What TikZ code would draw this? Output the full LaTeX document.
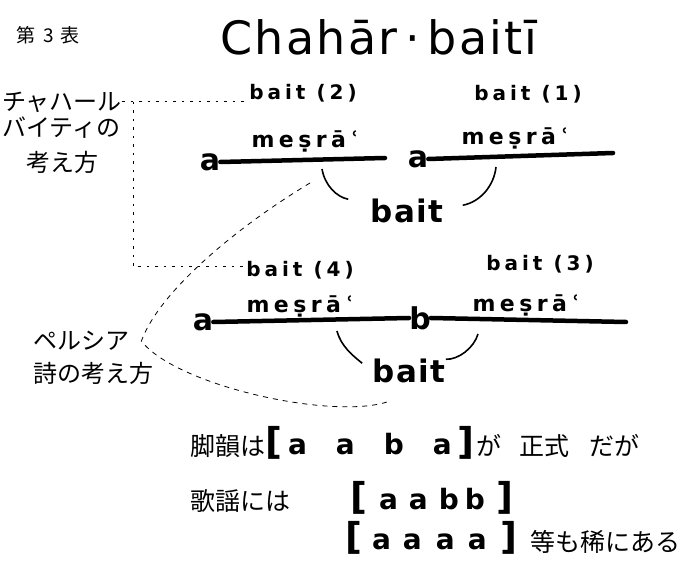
\documentclass[tikz,border=0pt]{standalone}
\usepackage{fontspec}
\newfontfamily\jfont{Noto Sans CJK JP}
\newfontfamily\handfont[LetterSpace=20]{DejaVu Sans}
\newfontfamily\wordfont[LetterSpace=5]{DejaVu Sans}
\newcommand\fs[1]{\fontsize{#1}{#1}\selectfont}
\newcommand\lbr{{\fs{37}[}}
\newcommand\rbr{{\fs{37}]}}

\begin{document}
\begin{tikzpicture}[x=1pt, y=-1pt,
  lbl/.style={inner sep=0pt, anchor=base, font=\handfont\bfseries\fs{20}},
  mesra/.style={inner sep=0pt, anchor=base, font=\handfont\bfseries\fs{22}},
  rhyme/.style={inner sep=0pt, font=\wordfont\bfseries\fs{30}},
  baitword/.style={inner sep=0pt, anchor=base, font=\wordfont\bfseries\fs{31}},
  jtext/.style={inner sep=0pt, anchor=west, font=\jfont\fs{24}},
  jbig/.style={inner sep=0pt, anchor=west, font=\jfont\fs{25}},
  rset/.style={inner sep=0pt, anchor=base west, font=\wordfont\bfseries\fs{28}},
  misra/.style={line width=4.5pt, line cap=round},
  arcline/.style={line width=1.6pt},
  dotline/.style={line width=1pt, dash pattern=on 2.5pt off 6pt},
  dashline/.style={line width=0.8pt, dash pattern=on 5pt off 5pt}]
  \useasboundingbox (0,0) rectangle (686,561);
  % table number and title
  \node[inner sep=0pt, font=\jfont\fs{19}] (tabno) at (48,35) {第\hspace{8pt}3\hspace{6pt}表};
  \node[inner sep=0pt, anchor=base, font=\wordfont\fs{46}] (title) at (379,55) {Chahār\,·\,baitī};
  % chahar baiti reading
  \node[jtext] (chahar1) at (2,102) {チャハール};
  \node[jtext] (chahar2) at (2,128) {バイティの};
  \node[jtext] (chahar3) at (26,162) {考え方};
  % upper row
  \node[lbl] (bait2) at (303,100) {bait (2)};
  \node[lbl] (bait1) at (528,101) {bait (1)};
  \node[mesra] (mesra1) at (305,148) {meṣrāʿ};
  \node[mesra] (mesra2) at (515,145) {meṣrāʿ};
  \node[rhyme] (a1) at (210,162) {a};
  \node[rhyme] (a2) at (418,159) {a};
  \coordinate (end1) at (385,158);
  \coordinate (end2) at (613,153);
  \draw[misra] (a1.east) -- (end1);
  \draw[misra] (a2.east) -- (end2);
  \node[baitword] (baitU) at (407,223) {bait};
  \coordinate (u1) at (322,169);
  \coordinate (u2) at (496,167);
  \draw[arcline] (u1) .. controls (325,186) and (337,197) .. ([xshift=-22pt]baitU.north west);
  \draw[arcline] (u2) .. controls (494,186) and (480,202) .. ([xshift=19pt, yshift=-6pt]baitU.north east);
  % lower row
  \node[lbl] (bait4) at (300,277) {bait (4)};
  \node[lbl] (bait3) at (540,271) {bait (3)};
  \node[mesra] (mesra3) at (300,313) {meṣrāʿ};
  \node[mesra] (mesra4) at (526,312) {meṣrāʿ};
  \node[rhyme] (a3) at (203,322) {a};
  \node[rhyme] (b1) at (420,318) {b};
  \coordinate (end4) at (626,322);
  \draw[misra] (a3.east) -- (b1.west);
  \draw[misra] (b1.east) -- (end4);
  \node[baitword] (baitL) at (409,383) {bait};
  \coordinate (l1) at (337,331);
  \coordinate (l2) at (478,334);
  \draw[arcline] (l1) .. controls (341,346) and (352,355) .. ([xshift=-10pt, yshift=-4pt]baitL.north west);
  \draw[arcline] (l2) .. controls (474,348) and (458,360) .. (baitL.north east);
  % dotted links
  \coordinate (fork) at (133,102);
  \draw[dotline] (chahar1.east) -- (chahar1.east -| bait2.west);
  \draw[dotline] (fork) |- ([yshift=4pt]bait4.west);
  % persian reading
  \node[jtext] (persia1) at (33,341) {ペルシア};
  \node[jtext] (persia2) at (33,373) {詩の考え方};
  \coordinate (pu) at (310,183);
  \coordinate (pl) at (387,402);
  \draw[dashline] (pu) .. controls (240,225) and (160,290) .. ([xshift=12pt]persia1.east)
    .. controls (175,385) and (330,420) .. (pl);
  % rhyme notes
  \node[jbig] (rule1) at (190,446) {脚韻は};
  \node[rset] (set1) at (265,455) {\lbr\hspace{6pt}a\hspace{29pt}a\hspace{29pt}b\hspace{29pt}a\hspace{6pt}\rbr};
  \node[jbig] (note1) at (476,446) {が\hspace{18pt}正式\hspace{20pt}だが};
  \node[jbig] (rule2) at (190,501) {歌謡には};
  \node[rset] (set2) at (350,509) {\lbr\hspace{12pt}a\hspace{11pt}a\hspace{11pt}b\hspace{6pt}b\hspace{12pt}\rbr};
  \node[rset] (set3) at (345,549) {\lbr\hspace{10pt}a\hspace{12pt}a\hspace{14pt}a\hspace{13pt}a\hspace{14pt}\rbr};
  \node[jbig] (note3) at (530,542) {等も稀にある};
\end{tikzpicture}
\end{document}
